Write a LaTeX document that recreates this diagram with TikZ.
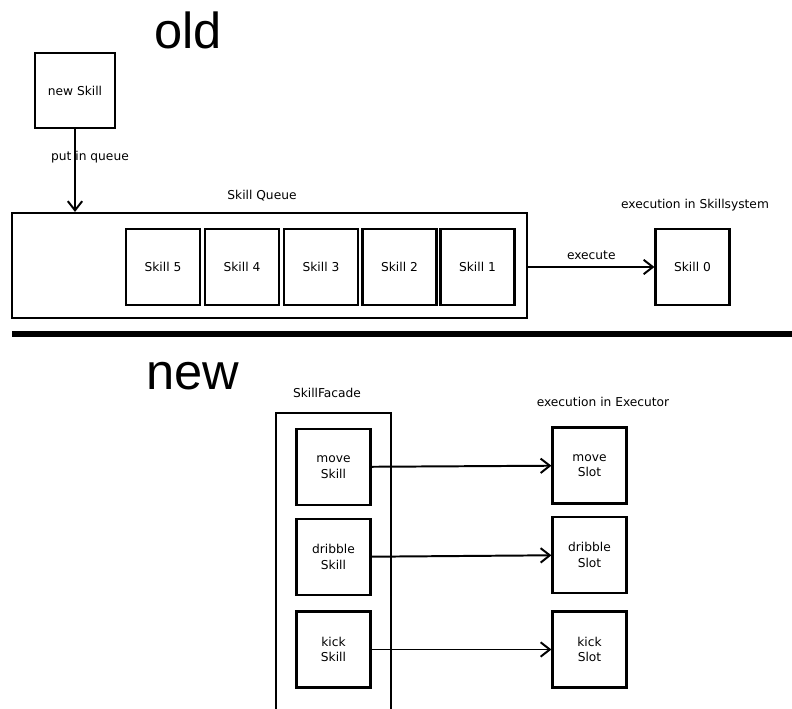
\documentclass[tikz,border=0pt]{standalone}
\usepackage{fontspec}
\setmainfont{DejaVu Sans}
\newfontfamily\titlefont{Liberation Sans}
\usetikzlibrary{arrows.meta, positioning}

\tikzset{
  skillbox/.style={draw, line width=1.5pt, minimum width=1.85cm, minimum height=1.9cm,
                   font=\fontsize{8.7}{11}\selectfont, align=center, inner sep=1pt},
  caption/.style={font=\fontsize{8.7}{11}\selectfont},
  title/.style={font=\titlefont\fontsize{36}{40}\selectfont},
  flow/.style={-{Straight Barb[length=2.3mm,width=3.6mm]}, line width=1.4pt},
}

\begin{document}
\begin{tikzpicture}[x=0.025cm, y=-0.025cm]
\useasboundingbox (0,0) rectangle (792,709);

% --- old: skill queue ---
\node[title] (oldtitle) at (188,30) {old};

\node[skillbox, minimum width=2cm, minimum height=1.875cm] (newskill) at (75,90.5) {new Skill};

\node[draw, line width=1.5pt, minimum width=12.875cm, minimum height=2.625cm] (queue) at (269.5,265.5) {};
\node[caption] (queuelabel) at (262,196) {Skill Queue};

\foreach \n/\x in {5/163,4/242,3/321,2/399.5,1/477.5}
  \node[skillbox] (skill\n) at (\x,267) {Skill \n};

\node[caption] (execsys) at (695,205) {execution in Skillsystem};
\node[skillbox] (skill0) at (692.5,267) {Skill 0};

% put in queue
\draw[flow] (newskill.south) -- (newskill |- queue.north);
\node[caption] (putlabel) at (90,157) {put in queue};

% execute
\draw[flow] (queue.east |- skill0) -- (skill0.west)
  node[caption, midway, above=1pt] (execlabel) {execute};

% separator
\draw[line width=3.6pt] (12,334) -- (792,334);

% --- new: facade and executor slots ---
\node[title] (newtitle) at (193,376) {new};

\node[caption] (facadelabel) at (327,393) {SkillFacade};
\draw[line width=1.5pt] (276,716) rectangle (391,413);

\node[caption] (execlabel2) at (603,402) {execution in Executor};

\node[skillbox] (moveskill) at (333.5,467) {move\\Skill};
\node[skillbox] (dribbleskill) at (333.5,557) {dribble\\Skill};
\node[skillbox] (kickskill) at (333.5,649.5) {kick\\Skill};

\node[skillbox] (moveslot) at (589.5,465.5) {move\\Slot};
\node[skillbox] (dribbleslot) at (589.5,555) {dribble\\Slot};
\node[skillbox] (kickslot) at (589.5,649.5) {kick\\Slot};

\draw[flow] (moveskill) -- (moveslot);
\draw[flow] (dribbleskill) -- (dribbleslot);
\draw[flow] (kickskill) -- (kickslot);

\end{tikzpicture}
\end{document}
